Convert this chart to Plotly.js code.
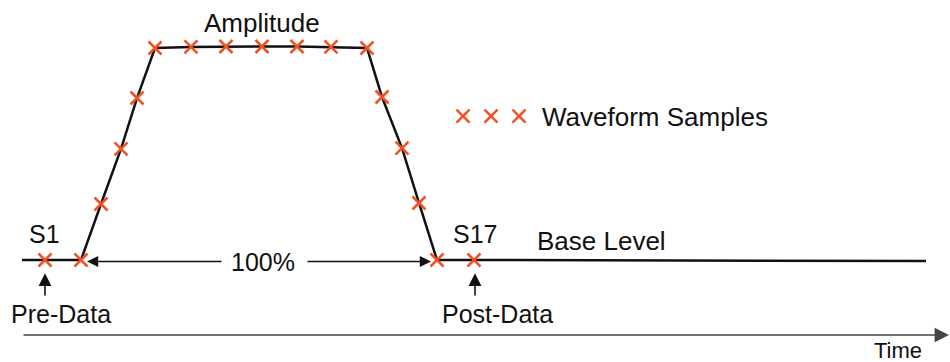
<!DOCTYPE html>
<html>
<head>
<meta charset="utf-8">
<script src="https://cdn.plot.ly/plotly-3.0.1.min.js"></script>
<style>html,body{margin:0;padding:0;background:#fff;}#chart{width:950px;height:362px;}</style>
</head>
<body>
<div id="chart"></div>
<script>
// Sample labels and waveform samples (time, level; base level = 0, amplitude = 1)
const sampleNames = ["S1","S2","S3","S4","S5","S6","S7","S8","S9","S10","S11","S12","S13","S14","S15","S16","S17"];
const sampleTime  = [45, 81, 101, 121, 137, 155, 191, 226, 262, 297, 331, 367, 382, 402, 419, 437, 474];
const sampleLevel = [0, 0, 0.264, 0.524, 0.764, 1.0, 1.005, 1.007, 1.007, 1.007, 1.005, 1.0, 0.769, 0.528, 0.269, 0, 0];

// Waveform line: lead-in, samples, base level tail
const waveTime  = [22].concat(sampleTime, [926]);
const waveLevel = [0].concat(sampleLevel, [-0.005]);

// Legend symbol positions
const legendTime  = [463, 491, 519];
const legendLevel = [0.679, 0.679, 0.679];

const FONT = "Liberation Sans, Arial, sans-serif";
const ORANGE = "#f05323";

const traces = [
  {x: waveTime, y: waveLevel, mode: "lines", line: {color: "#111", width: 2.5}, hoverinfo: "skip"},
  {x: sampleTime, y: sampleLevel, text: sampleNames, mode: "markers",
   marker: {symbol: "x-thin", size: 13, line: {color: ORANGE, width: 2.6}}},
  {x: legendTime, y: legendLevel, mode: "markers",
   marker: {symbol: "x-thin", size: 13, line: {color: ORANGE, width: 2.6}}}
];

function label(text, x, y, size, xanchor) {
  return {text: text, x: x, y: y, xref: "x", yref: "y", showarrow: false,
          xanchor: xanchor || "center", yanchor: "middle",
          font: {family: FONT, size: size || 25, color: "#111"}};
}
function arrow(x, y, ax, ay, color, width, hsize) {
  return {text: "", x: x, y: y, ax: ax, ay: ay, xref: "x", yref: "y", axref: "x", ayref: "y",
          showarrow: true, arrowhead: 2, arrowsize: hsize || 1.4, arrowwidth: width || 1.6,
          arrowcolor: color || "#111", standoff: 0, startstandoff: 0};
}

const annotations = [
  label("Amplitude", 262, 1.12, 26),
  label("S1", 44, 0.122),
  label("S17", 475, 0.122),
  label("Base Level", 601, 0.092, 26),
  label("100%", 263, -0.01),
  label("Pre-Data", 61, -0.255),
  label("Post-Data", 497, -0.255),
  label("Time", 898, -0.425, 22),
  label("Waveform Samples", 540, 0.675, 26, "left"),
  arrow(87, -0.007, 223, -0.007),
  arrow(431, -0.007, 306, -0.007),
  arrow(45, -0.062, 45, -0.175, "#111", 1.6, 1.6),
  arrow(475, -0.062, 475, -0.175, "#111", 1.6, 1.6),
  arrow(949, -0.354, 22, -0.354, "#444", 1.6, 1.8)
];

const layout = {
  width: 950, height: 362,
  margin: {l: 0, r: 0, t: 0, b: 0},
  paper_bgcolor: "#fff", plot_bgcolor: "#fff",
  showlegend: false,
  xaxis: {range: [0, 950], visible: false, fixedrange: true},
  yaxis: {range: [-0.4811, 1.2264], visible: false, fixedrange: true},
  annotations: annotations
};

Plotly.newPlot("chart", traces, layout, {staticPlot: true, displayModeBar: false});
</script>
</body>
</html>
